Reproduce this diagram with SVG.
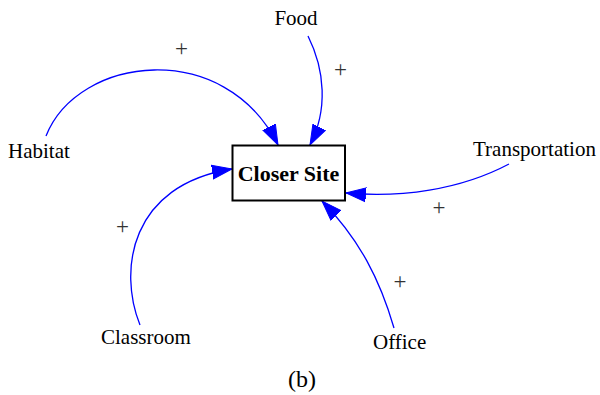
<svg xmlns="http://www.w3.org/2000/svg" width="600" height="395" viewBox="0 0 600 395">
<style>
text{font-family:"Liberation Serif","Times New Roman",serif;font-size:21px;fill:#000}
.e{fill:none;stroke:#0000ff;stroke-width:1.3}
.p{font-size:23px;fill:#333}
.b{font-weight:bold;font-size:22px}
</style>
<defs>
<marker id="ah" markerUnits="userSpaceOnUse" markerWidth="22" markerHeight="16" refX="20" refY="7" orient="auto" viewBox="0 0 22 14">
<path d="M0,0 L20,7 L0,14 Z" fill="#0000ff" stroke="#0000ff"/>
</marker>
</defs>
<rect width="600" height="395" fill="#fff"/>
<g id="edges">
<path class="e" d="M46,136 C78,55 225,38 278,145" marker-end="url(#ah)"/>
<path class="e" d="M308,36 C325,70 328,110 310,145" marker-end="url(#ah)"/>
<path class="e" d="M509,164 C460,190 400,198 346,193" marker-end="url(#ah)"/>
<path class="e" d="M140,325 C118,270 130,185 232,169" marker-end="url(#ah)"/>
<path class="e" d="M394,328 C380,280 360,240 322,201" marker-end="url(#ah)"/>
<text class="p" x="181.5" y="56" text-anchor="middle">+</text>
<text class="p" x="340.5" y="77" text-anchor="middle">+</text>
<text class="p" x="439" y="215" text-anchor="middle">+</text>
<text class="p" x="122.5" y="234" text-anchor="middle">+</text>
<text class="p" x="400" y="289" text-anchor="middle">+</text>
</g>
<g id="closer-site">
<rect x="232.5" y="145.5" width="112.5" height="55" fill="#fff" stroke="#000" stroke-width="2"/>
<text class="b" x="288.5" y="181" text-anchor="middle">Closer Site</text>
</g>
<g id="habitat"><text x="8" y="158">Habitat</text></g>
<g id="food"><text x="296" y="25" text-anchor="middle">Food</text></g>
<g id="transportation"><text x="473" y="156">Transportation</text></g>
<g id="classroom"><text x="101" y="344">Classroom</text></g>
<g id="office"><text x="373" y="349">Office</text></g>
<text x="302" y="387" text-anchor="middle" style="font-size:24px">(b)</text>
</svg>
